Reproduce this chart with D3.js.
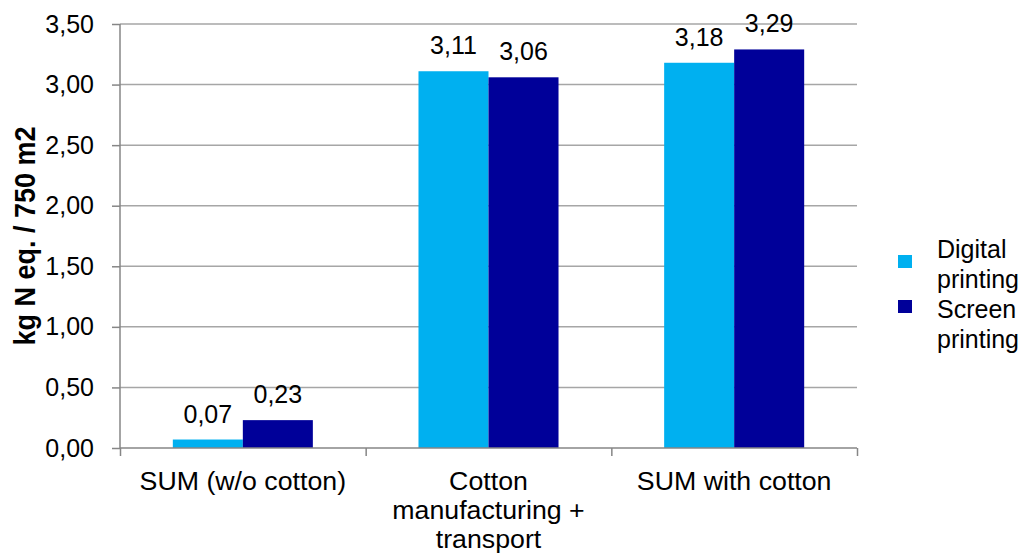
<!DOCTYPE html>
<html>
<head>
<meta charset="utf-8">
<script src="https://cdn.jsdelivr.net/npm/d3@7"></script>
<style>
  html, body { margin: 0; padding: 0; background: #fff; }
  svg { display: block; font-family: "Liberation Sans", Arial, sans-serif; }
</style>
</head>
<body>
<svg id="chart" width="1026" height="554"></svg>
<script>
const categories = [["SUM (w/o cotton)"], ["Cotton", "manufacturing +", "transport"], ["SUM with cotton"]];
const seriesNames = [["Digital", "printing"], ["Screen", "printing"]];
const digitalValues = [0.07, 3.11, 3.18];
const screenValues = [0.23, 3.06, 3.29];
const yTicks = [0, 0.5, 1.0, 1.5, 2.0, 2.5, 3.0, 3.5];
const yTitle = "kg N eq. / 750 m2";
const colors = ["#00B0F0", "#000099"];

const svg = d3.select("#chart");
const m = { left: 120, right: 1026 - 857, top: 24, bottom: 554 - 448 };
const W = 1026 - m.left - m.right, H = 554 - m.top - m.bottom;
const g = svg.append("g").attr("transform", `translate(${m.left},${m.top})`);

const x0 = d3.scaleBand().domain(d3.range(categories.length)).range([0, W]);
const bandW = x0.bandwidth();
const barW = bandW * 0.285;
const x1 = d3.scaleBand().domain([0, 1]).range([bandW / 2 - barW, bandW / 2 + barW]);
const y = d3.scaleLinear().domain([0, 3.5]).range([H, 0]);
const fmt = v => d3.format(".2f")(v).replace(".", ",");

// gridlines
g.append("g").selectAll("line").data(yTicks.filter(t => t > 0)).join("line")
  .attr("x1", 0).attr("x2", W).attr("y1", d => y(d)).attr("y2", d => y(d))
  .attr("stroke", "#a6a6a6").attr("stroke-width", 1.5);

// bars
const data = categories.map((c, i) => [digitalValues[i], screenValues[i]]);
const groups = g.append("g").selectAll("g").data(data).join("g")
  .attr("transform", (d, i) => `translate(${x0(i)},0)`);
groups.selectAll("rect").data(d => d.map((v, j) => ({ v, j }))).join("rect")
  .attr("x", d => x1(d.j)).attr("width", x1.bandwidth())
  .attr("y", d => y(d.v)).attr("height", d => H - y(d.v))
  .attr("fill", d => colors[d.j]);
groups.selectAll("text").data(d => d.map((v, j) => ({ v, j }))).join("text")
  .attr("x", d => x1(d.j) + x1.bandwidth() / 2).attr("y", d => y(d.v) - 17)
  .attr("text-anchor", "middle").attr("font-size", 25).attr("fill", "#000")
  .text(d => fmt(d.v));

// y axis
const yAxis = g.append("g")
  .call(d3.axisLeft(y).tickValues(yTicks).tickFormat(fmt).tickSize(8).tickPadding(18));
yAxis.attr("font-family", null);
yAxis.select(".domain").attr("stroke", "#868686").attr("stroke-width", 1.5).attr("d", `M0,${H}V0`);
yAxis.selectAll(".tick line").attr("stroke", "#868686").attr("stroke-width", 1.5);
yAxis.selectAll(".tick text").attr("font-size", 25).attr("fill", "#000");

// x axis
const xAxis = g.append("g").attr("transform", `translate(0,${H})`)
  .call(d3.axisBottom(d3.scaleLinear().domain([0, categories.length]).range([0, W]))
    .tickValues(d3.range(categories.length + 1)).tickFormat("").tickSize(8));
xAxis.select(".domain").attr("stroke", "#868686").attr("stroke-width", 1.5).attr("d", `M0,0H${W}`);
xAxis.selectAll(".tick line").attr("stroke", "#868686").attr("stroke-width", 1.5);

const xl = g.append("g").selectAll("text").data(categories).join("text")
  .attr("transform", (d, i) => `translate(${x0(i) + bandW / 2},${H + 42}) scale(1.07,1)`)
  .attr("text-anchor", "middle").attr("font-size", 25).attr("fill", "#000");
xl.selectAll("tspan").data(d => d).join("tspan")
  .attr("x", 0).attr("dy", (d, i) => i === 0 ? 0 : 29).text(d => d);

// y title
svg.append("text").attr("transform", `translate(35,${m.top + H / 2}) rotate(-90) scale(1,1.1)`)
  .attr("text-anchor", "middle").attr("font-size", 27).attr("font-weight", "bold").attr("fill", "#000").text(yTitle);

// legend
const leg = svg.append("g").attr("transform", "translate(898,255)");
leg.selectAll("rect").data(seriesNames).join("rect")
  .attr("y", (d, i) => i * 45).attr("width", 14).attr("height", 13).attr("fill", (d, i) => colors[i]);
const lt = leg.append("text").attr("x", 39).attr("y", 3).attr("font-size", 25).attr("fill", "#000");
lt.selectAll("tspan").data(seriesNames.flat()).join("tspan")
  .attr("x", 39).attr("dy", (d, i) => i === 0 ? 0 : 30).text(d => d);
</script>
</body>
</html>
